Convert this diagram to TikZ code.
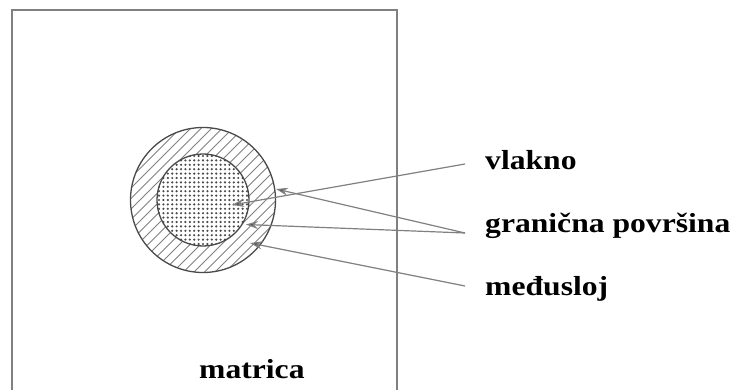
\documentclass[tikz,border=0pt]{standalone}
\usepackage{fontspec}
\setmainfont{Liberation Serif}[FakeStretch=1.15,BoldFeatures={FakeStretch=1.15}]
\usetikzlibrary{arrows.meta}
\definecolor{ink}{HTML}{808080}
\definecolor{darkink}{HTML}{4A4A4A}
\tikzset{
  lab/.style={anchor=base west,inner sep=0pt,font=\fontsize{27.5}{32}\selectfont\bfseries,text=black},
  lead/.style={draw=ink,line width=1.2pt,-{Stealth[length=12pt,width=8pt,fill=darkink]}},
  ring/.style={draw=darkink,line width=1.3pt},
  hatchline/.style={draw=ink,line width=1pt},
  dotmark/.style={fill=darkink,draw=none}
}
\begin{document}
\begin{tikzpicture}[x=1pt,y=-1pt]
\useasboundingbox (0,0) rectangle (733,390);
\draw[draw=ink,line width=1.1pt] (12,389.5) -- (12,10) -- (397,10) -- (397,389.5);
\coordinate (c) at (203,200);
\begin{scope}
  \clip (c) circle[radius=72.5];
  \foreach \k in {-14,...,14}{
    \draw[hatchline] (203-110+\k*10.5,200+110) -- (203+110+\k*10.5,200-110);
  }
\end{scope}
\fill[white] (c) circle[radius=46];
\begin{scope}
  \clip (c) circle[radius=46];
  \foreach \i in {-12,...,12}{
    \foreach \j in {-12,...,12}{
      \fill[dotmark] (203+\i*4.4,200+\j*4.4) circle[radius=1.2];
    }
  }
\end{scope}
\node[circle,ring,minimum size=145pt,inner sep=0pt] (outer) at (c) {};
\node[circle,ring,minimum size=92pt,inner sep=0pt] (inner) at (c) {};
\node[lab] (vl) at (485,170) {vlakno};
\node[lab] (gr) at (485,232) {granična površina};
\node[lab] (me) at (485,295) {međusloj};
\node[lab] (ma) at (199,378) {matrica};
\coordinate (vlfrom) at (465,164);
\coordinate (grfrom) at (465,233);
\coordinate (mefrom) at (465,286);
\coordinate (vltip) at (232,205);
\coordinate (grtipa) at (276,189);
\coordinate (grtipb) at (246,224.5);
\coordinate (metip) at (250,243);
\draw[lead] (vlfrom) -- (vltip);
\draw[lead] (grfrom) -- (grtipa);
\draw[lead] (grfrom) -- (grtipb);
\draw[lead] (mefrom) -- (metip);
\end{tikzpicture}
\end{document}
